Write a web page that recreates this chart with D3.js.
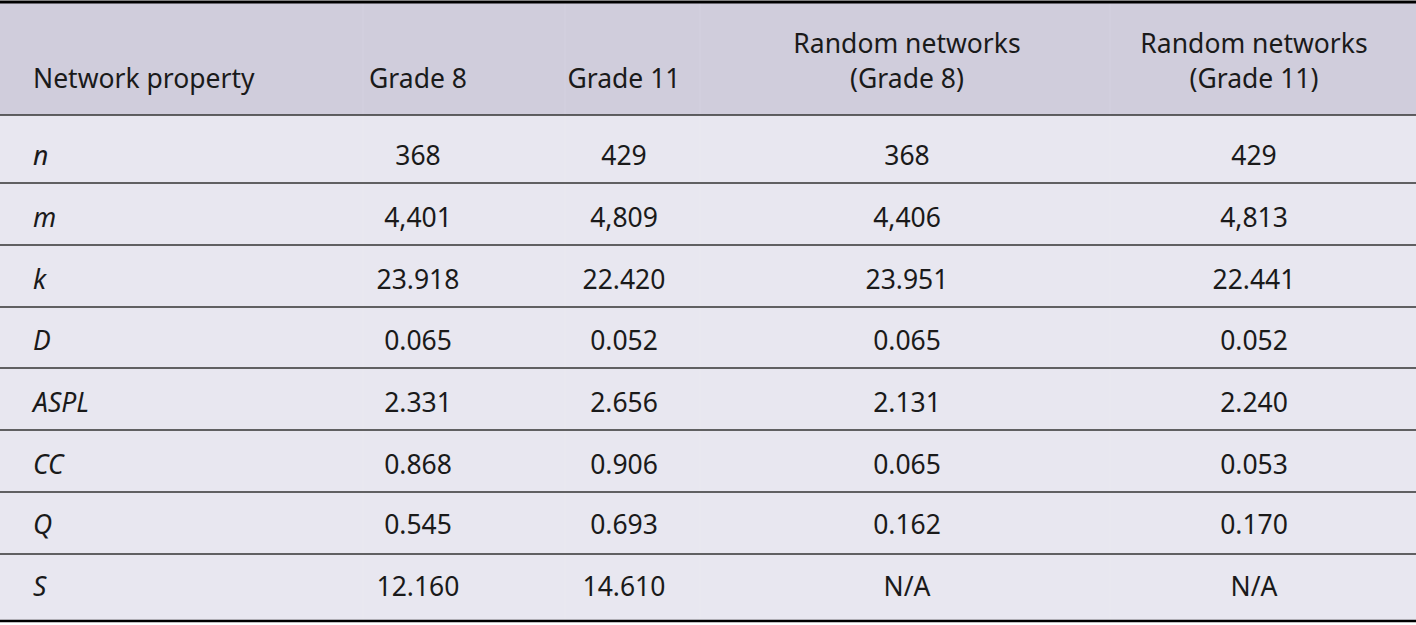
<!DOCTYPE html><html><head><meta charset="utf-8">
<script src="https://cdn.jsdelivr.net/npm/d3@7"></script>
<style>body{margin:0;background:#fff}</style></head><body>
<svg id="c" width="1416" height="625"></svg>
<script>
const columns = [["Network property"],["Grade 8"],["Grade 11"],["Random networks","(Grade 8)"],["Random networks","(Grade 11)"]];
const properties = ["n","m","k","D","ASPL","CC","Q","S"];
const grade8 = ["368","4,401","23.918","0.065","2.331","0.868","0.545","12.160"];
const grade11 = ["429","4,809","22.420","0.052","2.656","0.906","0.693","14.610"];
const random8 = ["368","4,406","23.951","0.065","2.131","0.065","0.162","N/A"];
const random11 = ["429","4,813","22.441","0.052","2.240","0.053","0.170","N/A"];

const svg = d3.select("#c");
const font = "'Noto Sans', sans-serif";
const FS = 26.5;
const W = 1416;
const colX = [33, 418, 624, 907, 1254];
const rowLines = [115,183,245,307,368,430,492,554,620];

svg.append("rect").attr("x",0).attr("y",3).attr("width",W).attr("height",112).attr("fill","#d0cddc");
svg.append("rect").attr("x",0).attr("y",115).attr("width",W).attr("height",505).attr("fill","#e8e7f0");
[363,565,700,1110].forEach(x=>svg.append("line").attr("x1",x).attr("x2",x).attr("y1",3).attr("y2",620).attr("stroke","#fff").attr("stroke-opacity",0.12));

columns.forEach((lines,i)=>{
  const t = svg.append("text").attr("font-family",font).attr("font-size",FS).attr("fill","#1a1a1a")
    .attr("text-anchor", i===0?"start":"middle").attr("textLength", null);
  lines.forEach((l,j)=>{
    const y = lines.length===1 ? 88 : 53+j*35;
    t.append("tspan").attr("x",colX[i]).attr("y",y).text(l);
  });
});

const rowY = [156,218,280,341,403,465,525,587];
const rows = properties.map((p,i)=>[p,grade8[i],grade11[i],random8[i],random11[i]]);
rows.forEach((r,i)=>{
  r.forEach((v,j)=>{
    svg.append("text").attr("x",colX[j]).attr("y",rowY[i]+9)
      .attr("font-family",font).attr("font-size",FS).attr("fill","#1a1a1a")
      .attr("font-style", j===0?"italic":"normal")
      .attr("text-anchor", j===0?"start":"middle").text(v);
  });
});

rowLines.slice(0,-1).forEach(y=>svg.append("line").attr("x1",0).attr("x2",W).attr("y1",y).attr("y2",y).attr("stroke","#333").attr("stroke-width",1.5));
svg.append("line").attr("x1",0).attr("x2",W).attr("y1",2).attr("y2",2).attr("stroke","#000").attr("stroke-width",3);
svg.append("line").attr("x1",0).attr("x2",W).attr("y1",621).attr("y2",621).attr("stroke","#000").attr("stroke-width",2.5);
</script></body></html>
